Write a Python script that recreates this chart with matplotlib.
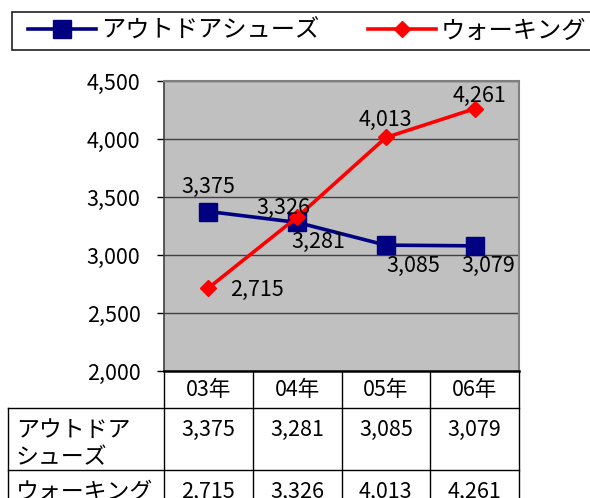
import matplotlib.pyplot as plt
import matplotlib.transforms as mtransforms
from matplotlib.patches import Rectangle
from matplotlib.ticker import FuncFormatter

plt.rcParams['font.family'] = ['Noto Sans CJK JP', 'DejaVu Sans']

years = ['03年', '04年', '05年', '06年']
outdoor_name = 'アウトドアシューズ'
walking_name = 'ウォーキング'
outdoor = [3375, 3281, 3085, 3079]
walking = [2715, 3326, 4013, 4261]
row_labels = ['アウトドア\nシューズ', 'ウォーキング']

# label offsets (points) for each value label
outdoor_off = [(0, 18), (15, -14), (20, -15), (10, -14.5)]
walking_off = [(35, -1.5), (-10, 7), (0, 12.5), (3.5, 9)]

FS = 15.5
W, H = 590, 498


def fmt(v, pos=None):
    return '{:,}'.format(int(v))


fig = plt.figure(figsize=(W / 100, H / 100), dpi=100)
ax = fig.add_axes([164 / W, 1 - 371 / H, 355 / W, 290 / H])

x = list(range(len(years)))
ax.plot(x, outdoor, color='#000080', lw=2.6, marker='s', ms=12.5, zorder=3)
ax.plot(x, walking, color='#FF0000', lw=2.6, marker='D', ms=8.5, zorder=4)

for i, v in enumerate(outdoor):
    ax.annotate(fmt(v), (i, v), xytext=outdoor_off[i], textcoords='offset points',
                ha='center', va='center', fontsize=FS, zorder=5)
for i, v in enumerate(walking):
    ax.annotate(fmt(v), (i, v), xytext=walking_off[i], textcoords='offset points',
                ha='center', va='center', fontsize=FS, zorder=5)

ax.set_xlim(-0.5, len(years) - 0.5)
ax.set_ylim(2000, 4500)
ax.set_yticks(range(2000, 4501, 500))
ax.yaxis.set_major_formatter(FuncFormatter(fmt))
ax.set_xticks([])
ax.tick_params(axis='y', labelsize=FS, length=5, width=1, pad=12, colors='#000000')
ax.set_facecolor('#C0C0C0')
ax.grid(axis='y', color='#404040', lw=1)
ax.set_axisbelow(True)
for side in ['top', 'right']:
    ax.spines[side].set_color('#808080')
    ax.spines[side].set_linewidth(1.5)
ax.spines['left'].set_color('#404040')
ax.spines['left'].set_linewidth(1.2)
ax.spines['bottom'].set_color('#000000')
ax.spines['bottom'].set_linewidth(1.8)

# data table under the plot
blend = mtransforms.blended_transform_factory(ax.transData, ax.transAxes)
hdr_bot = -37 / 290
row1_bot = -99 / 290
row2_bot = -161 / 290
left = -156 / 355
line_kw = dict(color='black', lw=1, clip_on=False)

for b in [i - 0.5 for i in range(len(years) + 1)]:
    ax.plot([b, b], [0, row2_bot], transform=blend, **line_kw)
ax.plot([left, left], [hdr_bot, row2_bot], transform=ax.transAxes, **line_kw)
for yb in [hdr_bot, row1_bot, row2_bot]:
    ax.plot([left, 1], [yb, yb], transform=ax.transAxes, **line_kw)

for i, yr in enumerate(years):
    ax.text(i, hdr_bot / 2, yr, transform=blend, ha='center', va='center', fontsize=FS)

pad_top = 11 / 290
for r, (lab, vals) in enumerate(zip(row_labels, [outdoor, walking])):
    top = [hdr_bot, row1_bot][r] - pad_top
    ax.text(left + 8 / 355, top, lab, transform=ax.transAxes, ha='left', va='top',
            fontsize=FS + 1, linespacing=1.25)
    for i, v in enumerate(vals):
        ax.text(i, top, fmt(v), transform=blend, ha='center', va='top', fontsize=FS)

# legend across the top
fig.patches.append(Rectangle((12 / W, 1 - 50 / H), 590 / W, 38 / H, transform=fig.transFigure,
                             facecolor='white', edgecolor='#202020', lw=1.2))
leg = fig.legend([outdoor_name, walking_name], loc='center left',
                 bbox_to_anchor=(28 / W, 1 - 31 / H), ncol=2, frameon=False,
                 fontsize=17.5, handlelength=2.8, handletextpad=0.2,
                 columnspacing=2.0, borderaxespad=0, borderpad=0)

fig.savefig('out.png', dpi=100)
